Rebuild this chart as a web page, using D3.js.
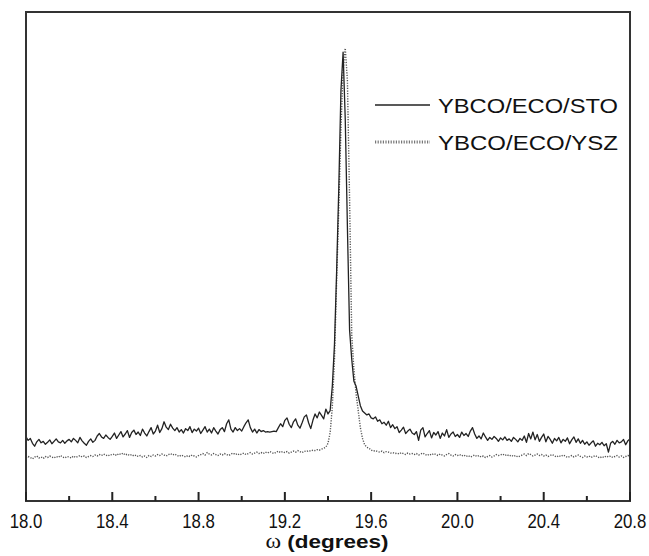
<!DOCTYPE html>
<html>
<head>
<meta charset="utf-8">
<style>
  body { margin: 0; background: #fff; }
  svg { display: block; }
  text { font-family: "Liberation Sans", Arial, sans-serif; fill: #111; }
</style>
</head>
<body>
<div id="chart"></div>
<script src="https://cdnjs.cloudflare.com/ajax/libs/d3/7.8.5/d3.min.js"></script>
<script>
// omega grid, 18.00 .. 20.80 in 0.01 steps
const omegaStart = 18.0, omegaStep = 0.01;

// intensity (arb. units), one value per 0.01 deg
const sto = [
  131, 124, 128, 118, 112, 121, 126, 119, 122, 116,
  120, 125, 117, 122, 127, 121, 119, 124, 118, 123,
  126, 121, 128, 124, 119, 130, 123, 118, 114, 122,
  127, 120, 124, 133, 138, 131, 128, 135, 130, 126,
  132, 139, 128, 135, 142, 131, 137, 144, 130, 140,
  145, 136, 141, 134, 147, 139, 133, 142, 150, 137,
  143, 155, 140, 148, 162, 151, 146, 157, 149, 144,
  150, 141, 146, 139, 148, 144, 152, 140, 147, 143,
  149, 138, 145, 152, 141, 147, 139, 150, 143, 137,
  146, 150, 142, 158, 166, 147, 141, 150, 144, 148,
  143, 152, 160, 166, 150, 141, 147, 139, 146, 142,
  144, 141, 142, 141, 142, 143, 142, 150, 158, 152,
  165, 170, 157, 150, 162, 168, 155, 149, 160, 172,
  176, 160, 148, 165, 178, 170, 182, 175, 168, 188,
  178, 185, 235, 320, 470, 640, 840, 918, 780, 560,
  350, 290, 245, 235, 215, 195, 184, 180, 176, 178,
  170, 168, 172, 163, 166, 158, 161, 155, 163, 150,
  156, 148, 152, 140, 145, 151, 138, 143, 147, 139,
  136, 142, 124, 145, 150, 131, 138, 144, 129, 140,
  135, 142, 128, 139, 133, 146, 130, 137, 141, 132,
  136, 130, 141, 134, 138, 132, 143, 150, 137, 128,
  133, 127, 139, 131, 124, 130, 126, 132, 128, 122,
  129, 125, 131, 124, 127, 122, 130, 126, 121, 128,
  124, 133, 120, 138, 127, 141, 125, 136, 122, 130,
  137, 121, 132, 126, 118, 128, 123, 130, 119, 126,
  122, 129, 117, 125, 131, 120, 127, 118, 124, 116,
  121, 114, 119, 123, 112, 118, 115, 120, 113, 117,
  100, 118, 122, 116, 124, 119, 121, 126, 115, 123, 127
];

const ysz = [
  88, 91, 89, 86, 90, 92, 88, 90, 87, 91,
  89, 92, 90, 88, 91, 89, 93, 90, 88, 91,
  90, 88, 92, 89, 91, 93, 90, 92, 89, 91,
  93, 91, 94, 92, 95, 93, 96, 94, 92, 95,
  94, 96, 93, 97, 95, 98, 94, 96, 93, 95,
  92, 94, 91, 93, 90, 92, 89, 93, 91, 94,
  92, 95, 93, 96, 94, 92, 95, 97, 94, 96,
  93, 91, 94, 92, 90, 93, 91, 94, 92, 90,
  93, 95, 97, 94, 99, 96, 94, 97, 95, 93,
  96, 94, 97, 95, 93, 96, 98, 95, 97, 94,
  96, 98, 95, 97, 99, 96, 98, 100, 97, 99,
  97, 100, 98, 101, 99, 97, 100, 102, 99, 101,
  99, 101, 98, 100, 102, 100, 103, 101, 99, 102,
  101, 103, 102, 104, 103, 105, 104, 106, 108, 110,
  118, 140, 192, 290, 450, 600, 760, 880, 926, 860,
  620, 340, 270, 220, 185, 150, 128, 115, 110, 108,
  104, 102, 103, 101, 100, 102, 99, 101, 100, 98,
  99, 97, 98, 96, 99, 97, 95, 98, 96, 97,
  95, 97, 94, 96, 98, 95, 93, 96, 94, 97,
  95, 93, 96, 94, 92, 95, 97, 94, 92, 95,
  93, 95, 92, 94, 91, 93, 90, 92, 94, 91,
  93, 90, 92, 89, 91, 93, 90, 92, 95, 93,
  94, 96, 93, 95, 92, 94, 91, 93, 90, 92,
  94, 96, 93, 97, 95, 92, 94, 96, 93, 95,
  92, 94, 91, 93, 95, 92, 90, 93, 91, 94,
  92, 89, 91, 93, 90, 92, 94, 91, 89, 92,
  90, 92, 89, 91, 93, 90, 88, 91, 89, 92,
  90, 92, 89, 91, 93, 90, 92, 89, 91, 93, 92
];

const majorTicks = [18.0, 18.4, 18.8, 19.2, 19.6, 20.0, 20.4, 20.8];
const minorTicks = [18.2, 18.6, 19.0, 19.4, 19.8, 20.2, 20.6];
const seriesNames = ["YBCO/ECO/STO", "YBCO/ECO/YSZ"];

const width = 649, height = 556;
const plot = { left: 26, right: 630, top: 12, bottom: 501 };

const svg = d3.select("#chart").append("svg")
  .attr("width", width).attr("height", height);

const x = d3.scaleLinear().domain([18.0, 20.8]).range([plot.left, plot.right]);
const y = d3.scaleLinear().domain([0, 1000]).range([plot.bottom, plot.top]);

const toPoints = vals => vals.map((v, i) => [omegaStart + i * omegaStep, v]);

svg.append("clipPath").attr("id", "clip")
  .append("rect").attr("x", plot.left).attr("y", plot.top)
  .attr("width", plot.right - plot.left).attr("height", plot.bottom - plot.top);

const line = d3.line().x(d => x(d[0])).y(d => y(d[1]));

const g = svg.append("g").attr("clip-path", "url(#clip)");

g.append("path").datum(toPoints(ysz))
  .attr("d", line).attr("fill", "none")
  .attr("stroke", "#555").attr("stroke-width", 1.4)
  .attr("stroke-dasharray", "1.2,1.4");

g.append("path").datum(toPoints(sto))
  .attr("d", line).attr("fill", "none")
  .attr("stroke", "#222").attr("stroke-width", 1.3)
  .attr("stroke-linejoin", "round");

// frame
svg.append("rect")
  .attr("x", plot.left).attr("y", plot.top)
  .attr("width", plot.right - plot.left).attr("height", plot.bottom - plot.top)
  .attr("fill", "none").attr("stroke", "#333").attr("stroke-width", 2);

// bottom axis, ticks pointing inward
const axis = svg.append("g");
axis.selectAll("line.major").data(majorTicks).join("line")
  .attr("class", "major")
  .attr("x1", d => x(d)).attr("x2", d => x(d))
  .attr("y1", plot.bottom).attr("y2", plot.bottom - 9)
  .attr("stroke", "#222").attr("stroke-width", 2);
axis.selectAll("line.minor").data(minorTicks).join("line")
  .attr("class", "minor")
  .attr("x1", d => x(d)).attr("x2", d => x(d))
  .attr("y1", plot.bottom).attr("y2", plot.bottom - 5)
  .attr("stroke", "#222").attr("stroke-width", 2);
// labels are horizontally condensed in the original
axis.selectAll("text").data(majorTicks).join("text")
  .attr("transform", d => `translate(${x(d)},528) scale(0.8,1)`)
  .attr("text-anchor", "middle")
  .attr("font-size", 21)
  .text(d => d.toFixed(1));

// x label, serif omega like the original
const xlab = svg.append("text")
  .attr("x", 327).attr("y", 548)
  .attr("text-anchor", "middle")
  .attr("font-size", 19).attr("font-weight", "bold")
  .attr("textLength", 123).attr("lengthAdjust", "spacingAndGlyphs");
xlab.append("tspan")
  .attr("font-family", "'Liberation Serif', serif")
  .attr("font-weight", "normal").attr("font-size", 20)
  .text("ω");
xlab.append("tspan").text(" (degrees)");

// legend
const legend = svg.append("g");
const legendY = [105, 142];
legend.append("line")
  .attr("x1", 375).attr("x2", 430).attr("y1", legendY[0]).attr("y2", legendY[0])
  .attr("stroke", "#222").attr("stroke-width", 1.3);
legend.append("line")
  .attr("x1", 375).attr("x2", 430).attr("y1", legendY[1]).attr("y2", legendY[1])
  .attr("stroke", "#777").attr("stroke-width", 3)
  .attr("stroke-dasharray", "1.2,1.4");
legend.selectAll("text").data(seriesNames).join("text")
  .attr("x", 438).attr("y", (d, i) => legendY[i] + 8)
  .attr("font-size", 21)
  .attr("textLength", 180).attr("lengthAdjust", "spacingAndGlyphs")
  .text(d => d);
</script>
</body>
</html>
